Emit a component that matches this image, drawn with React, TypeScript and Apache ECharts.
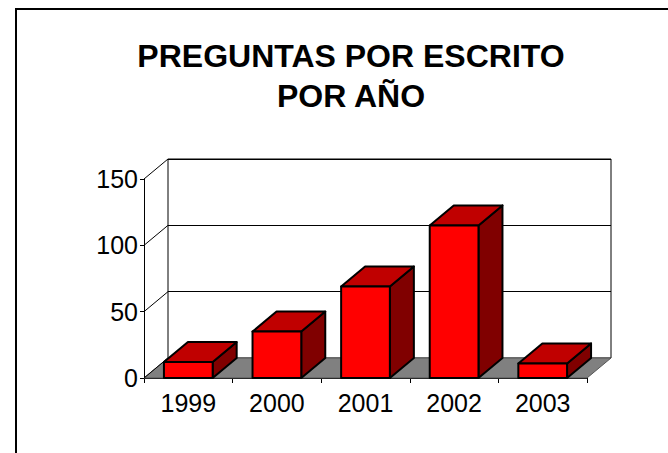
import React, { useEffect, useRef } from "react";
import * as echarts from "echarts";

const categories = ["1999", "2000", "2001", "2002", "2003"];
const values = [12, 35, 69, 115, 11];
const yTicks = [0, 50, 100, 150];
const titleText = "PREGUNTAS POR ESCRITO\nPOR AÑO";

const FONT = "'Liberation Sans', Arial, sans-serif";
const DX = 24;
const DY = -20;

export default function App() {
  const ref = useRef<HTMLDivElement>(null);
  useEffect(() => {
    if (!ref.current) return;
    const chart = echarts.init(ref.current, null, { renderer: "svg" });
    const option: any = {
      animation: false,
      backgroundColor: "#fff",
      title: {
        text: titleText,
        left: 346,
        top: 31,
        textAlign: "center",
        textStyle: {
          fontFamily: FONT,
          fontSize: 32,
          fontWeight: "bold",
          color: "#000",
          lineHeight: 40,
        },
      },
      graphic: [
        {
          type: "rect",
          silent: true,
          shape: { x: 16, y: 9, width: 720, height: 520 },
          style: { fill: "none", stroke: "#000", lineWidth: 2 },
        },
      ],
      grid: [
        { left: 144, top: 179, width: 443, height: 199 },
        {
          left: 144 + DX,
          top: 179 + DY,
          width: 443,
          height: 199,
          show: true,
          borderColor: "#000",
          borderWidth: 1,
          backgroundColor: "transparent",
        },
      ],
      xAxis: [
        {
          gridIndex: 0,
          type: "category",
          data: categories,
          axisLine: { show: true, lineStyle: { color: "#000", width: 1 } },
          axisTick: { show: true, length: 5, lineStyle: { color: "#000" } },
          axisLabel: { fontSize: 25, fontFamily: FONT, color: "#000", margin: 12 },
          splitLine: { show: false },
        },
        { gridIndex: 1, type: "category", data: categories, show: false },
      ],
      yAxis: [
        {
          gridIndex: 0,
          type: "value",
          min: 0,
          max: 150,
          interval: 50,
          axisLine: { show: true, lineStyle: { color: "#000", width: 1 } },
          axisTick: { show: true, length: 4, lineStyle: { color: "#000" } },
          axisLabel: { fontSize: 25, fontFamily: FONT, color: "#000", margin: 6 },
          splitLine: { show: false },
        },
        {
          gridIndex: 1,
          type: "value",
          min: 0,
          max: 150,
          interval: 50,
          axisLine: { show: false },
          axisTick: { show: false },
          axisLabel: { show: false },
          splitLine: { show: true, lineStyle: { color: "#000", width: 1 } },
        },
      ],
      series: [
        {
          type: "custom",
          xAxisIndex: 0,
          yAxisIndex: 0,
          data: [[0, 0]],
          silent: true,
          renderItem: (params: any, api: any) => {
            const cs = params.coordSys;
            const yb = cs.y + cs.height;
            const children: any[] = [
              {
                type: "polygon",
                shape: {
                  points: [
                    [cs.x, yb],
                    [cs.x + cs.width, yb],
                    [cs.x + cs.width + DX, yb + DY],
                    [cs.x + DX, yb + DY],
                  ],
                },
                style: { fill: "#808080", stroke: "#555", lineWidth: 1 },
              },
            ];
            yTicks.forEach((v) => {
              const y = api.coord([0, v])[1];
              children.push({
                type: "line",
                shape: { x1: cs.x, y1: y, x2: cs.x + DX, y2: y + DY },
                style: { stroke: "#000", lineWidth: 1 },
              });
            });
            return { type: "group", children };
          },
          z: 1,
        },
        {
          type: "custom",
          xAxisIndex: 0,
          yAxisIndex: 0,
          data: values.map((v, i) => [i, v]),
          renderItem: (params: any, api: any) => {
            const base = api.coord([api.value(0), 0]);
            const top = api.coord([api.value(0), api.value(1)]);
            const w = api.size([1, 0])[0] * 0.55;
            const x0 = base[0] - w / 2;
            const x1 = base[0] + w / 2;
            const yb = base[1];
            const yt = top[1];
            const line = { stroke: "#000", lineWidth: 2, lineJoin: "round" };
            return {
              type: "group",
              children: [
                {
                  type: "polygon",
                  shape: {
                    points: [
                      [x1, yt],
                      [x1 + DX, yt + DY],
                      [x1 + DX, yb + DY],
                      [x1, yb],
                    ],
                  },
                  style: { fill: "#800000", ...line },
                },
                {
                  type: "polygon",
                  shape: {
                    points: [
                      [x0, yt],
                      [x1, yt],
                      [x1 + DX, yt + DY],
                      [x0 + DX, yt + DY],
                    ],
                  },
                  style: { fill: "#C00000", ...line },
                },
                {
                  type: "rect",
                  shape: { x: x0, y: yt, width: w, height: yb - yt },
                  style: { fill: "#FF0000", ...line },
                },
              ],
            };
          },
          z: 3,
        },
      ],
    };
    chart.setOption(option);
    return () => chart.dispose();
  }, []);
  return (
    <div
      ref={ref}
      style={{ position: "fixed", left: 0, top: 0, width: 668, height: 453 }}
    />
  );
}
